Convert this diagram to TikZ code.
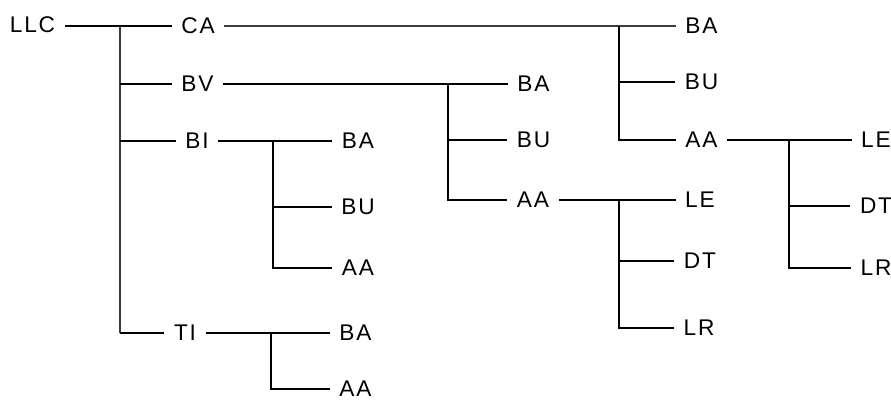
\documentclass[tikz,border=0pt]{standalone}
\usepackage{fontspec}
\setmainfont{Liberation Sans}[LetterSpace=8]
\usepackage{tikz}

\tikzset{
  label/.style={inner xsep=7pt, inner ysep=2pt, font=\fontsize{17}{20}\selectfont},
  branch/.style={line width=1.6pt, color=black},
  thinbranch/.style={line width=1pt, color={rgb, 255:red, 60; green, 60; blue, 60}}
}

\begin{document}
\begin{tikzpicture}[x=0.75pt,y=0.75pt,yscale=-1,xscale=1]
\useasboundingbox (0,0) rectangle (891,401);

% Text Node
\node [label] (llc) at (32.5,25) {LLC};
% Text Node
\node [label] (ca) at (198,26) {CA};
% Text Node
\node [label] (bv) at (197.5,84) {BV};
% Text Node
\node [label] (bi) at (197,141) {BI};
% Text Node
\node [label] (ti) at (185,333) {TI};

% Text Node
\node [label] (caBA) at (701.5,26) {BA};
% Text Node
\node [label] (caBU) at (701.5,82) {BU};
% Text Node
\node [label] (caAA) at (701.5,140) {AA};
% Text Node
\node [label] (caLE) at (876,140) {LE};
% Text Node
\node [label] (caDT) at (876,206) {DT};
% Text Node
\node [label] (caLR) at (876,268) {LR};

% Text Node
\node [label] (bvBA) at (533.5,84) {BA};
% Text Node
\node [label] (bvBU) at (533.5,140) {BU};
% Text Node
\node [label] (bvAA) at (533,200) {AA};
% Text Node
\node [label] (bvLE) at (700,200) {LE};
% Text Node
\node [label] (bvDT) at (700,261) {DT};
% Text Node
\node [label] (bvLR) at (699,328) {LR};

% Text Node
\node [label] (biBA) at (358,141) {BA};
% Text Node
\node [label] (biBU) at (358,207) {BU};
% Text Node
\node [label] (biAA) at (358,268) {AA};

% Text Node
\node [label] (tiBA) at (355.5,333) {BA};
% Text Node
\node [label] (tiAA) at (355.5,389) {AA};

%Junctions
\coordinate (jr) at (120,26);
\coordinate (jca) at (619,26);
\coordinate (jcaa) at (789,140);
\coordinate (jbv) at (448,84);
\coordinate (jbva) at (619,200);
\coordinate (jbi) at (273,141);
\coordinate (jti) at (271,333);

%Straight Lines
\draw [branch] (llc.east |- jr) -- (ca) ;
\draw [thinbranch] (jr) -- (jr |- ti) ;
\draw [branch] (jr |- bv) -- (bv) ;
\draw [branch] (jr |- bi) -- (bi) ;
\draw [branch] (jr |- ti) -- (ti) ;

%Straight Lines
\draw [thinbranch] (ca) -- (caBA) ;
\draw [branch] (jca) |- (caBU) ;
\draw [branch] (jca) |- (caAA) ;
\draw [branch] (caAA) -- (caLE) ;
\draw [branch] (jcaa) |- (caDT) ;
\draw [branch] (jcaa) |- (caLR) ;

%Straight Lines
\draw [branch] (bv) -- (bvBA) ;
\draw [branch] (jbv) |- (bvBU) ;
\draw [branch] (jbv) |- (bvAA) ;
\draw [branch] (bvAA) -- (bvLE) ;
\draw [branch] (jbva) |- (bvDT) ;
\draw [branch] (jbva) |- (bvLR) ;

%Straight Lines
\draw [branch] (bi) -- (biBA) ;
\draw [branch] (jbi) |- (biBU) ;
\draw [branch] (jbi) |- (biAA) ;

%Straight Lines
\draw [branch] (ti) -- (tiBA) ;
\draw [branch] (jti) |- (tiAA) ;

\end{tikzpicture}
\end{document}
